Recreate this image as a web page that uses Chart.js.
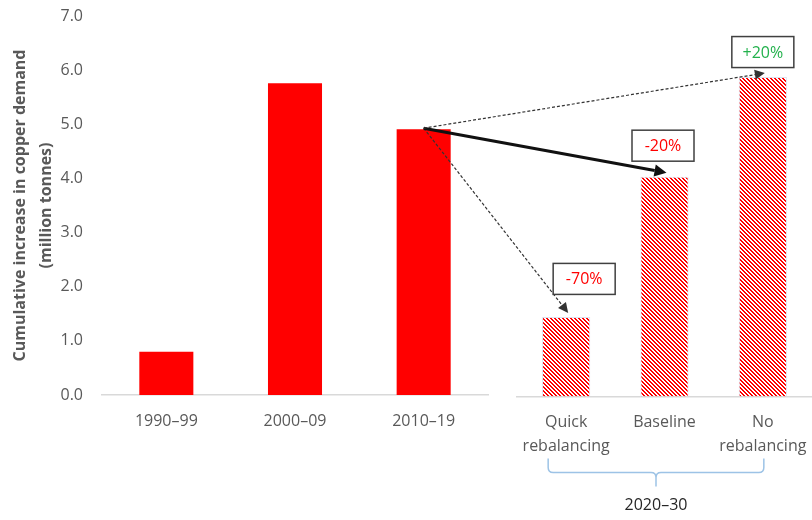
<!DOCTYPE html>
<html>
<head>
<meta charset="utf-8">
<script src="https://cdn.jsdelivr.net/npm/chart.js@4.4.1/dist/chart.umd.min.js"></script>
<style>
  body { margin: 0; background: #fff; }
  #wrap { position: relative; width: 812px; height: 520px; }
  #wrap canvas { position: absolute; top: 0; }
</style>
</head>
<body>
<div id="wrap">
  <canvas id="past" style="left:0"></canvas>
  <canvas id="future" style="left:500px"></canvas>
  <canvas id="overlay" width="812" height="520" style="left:0;pointer-events:none"></canvas>
</div>
<script>
// historical decades
const pastLabels = ['1990–99', '2000–09', '2010–19'];
const pastValues = [0.80, 5.76, 4.91];

// 2020-30 scenarios
const scenarioLabels = [['Quick', 'rebalancing'], 'Baseline', ['No', 'rebalancing']];
const scenarioValues = [1.47, 4.06, 5.90];
const changeLabels = ['-70%', '-20%', '+20%'];
const periodLabel = '2020–30';

const yTitle = ['Cumulative increase in copper demand', '(million tonnes)'];

const RED = '#ff0000';
const GREY = '#595959';
const FONT = 'Open Sans';

function hatch() {
  const c = document.createElement('canvas');
  c.width = 4; c.height = 4;
  const g = c.getContext('2d');
  g.fillStyle = '#fff';
  g.fillRect(0, 0, 4, 4);
  g.fillStyle = RED;
  for (let y = 0; y < 4; y++) {
    for (let x = 0; x < 4; x++) {
      if (((x - y) % 4 + 4) % 4 < 2) g.fillRect(x, y, 1, 1);
    }
  }
  return g.createPattern(c, 'repeat');
}

// no extra room for overflowing labels, the plot areas are placed by hand
function noPad(axis) {
  axis.paddingLeft = 0;
  axis.paddingRight = 0;
  axis.paddingTop = 0;
  axis.paddingBottom = 0;
}

const pastCanvas = document.getElementById('past');
pastCanvas.width = 500; pastCanvas.height = 520;
const futureCanvas = document.getElementById('future');
futureCanvas.width = 312; futureCanvas.height = 520;

const tickFont = { family: FONT, size: 16, lineHeight: 1.5 };

const past = new Chart(pastCanvas, {
  type: 'bar',
  data: {
    labels: pastLabels,
    datasets: [{
      data: pastValues,
      backgroundColor: RED,
      barPercentage: 0.42,
      categoryPercentage: 1
    }]
  },
  options: {
    responsive: false,
    animation: false,
    layout: { padding: { top: 16, right: 12, left: 0, bottom: 0 } },
    plugins: { legend: { display: false }, tooltip: { enabled: false } },
    scales: {
      x: {
        grid: { display: false, drawTicks: false },
        border: { color: '#d9d9d9', width: 1.5 },
        ticks: { color: GREY, font: tickFont, padding: 14, maxRotation: 0 },
        afterFit: (axis) => { axis.height = 125; noPad(axis); }
      },
      y: {
        min: 0,
        max: 7,
        grid: { display: false, drawTicks: false },
        border: { display: false },
        ticks: {
          stepSize: 1,
          color: GREY,
          font: { family: FONT, size: 16 },
          padding: 19,
          callback: (v) => v.toFixed(1)
        },
        title: {
          display: true,
          text: yTitle,
          color: GREY,
          font: { family: FONT, size: 16, weight: 'bold', lineHeight: 1.6 },
          padding: { top: 8, bottom: 0 }
        },
        afterFit: (axis) => { axis.width = 102; noPad(axis); }
      }
    }
  }
});

const future = new Chart(futureCanvas, {
  type: 'bar',
  data: {
    labels: scenarioLabels,
    datasets: [{
      data: scenarioValues,
      backgroundColor: hatch(),
      borderColor: '#dde3f0',
      borderWidth: 1,
      barPercentage: 0.49,
      categoryPercentage: 1
    }]
  },
  options: {
    responsive: false,
    animation: false,
    layout: { padding: { top: 17.5, right: 0, left: 17, bottom: 0 } },
    plugins: { legend: { display: false }, tooltip: { enabled: false } },
    scales: {
      x: {
        grid: { display: false, drawTicks: false },
        border: { color: '#d9d9d9', width: 1.5 },
        ticks: { color: GREY, font: tickFont, padding: 14, maxRotation: 0 },
        afterFit: (axis) => { axis.height = 123.5; noPad(axis); }
      },
      y: { display: false, min: 0, max: 7 }
    }
  }
});

function arrow(g, x1, y1, x2, y2, opts) {
  const ang = Math.atan2(y2 - y1, x2 - x1);
  const len = opts.head, half = opts.headW;
  const bx = x2 - Math.cos(ang) * len, by = y2 - Math.sin(ang) * len;
  g.save();
  g.strokeStyle = opts.color;
  g.fillStyle = opts.color;
  g.lineWidth = opts.width;
  g.setLineDash(opts.dash || []);
  g.beginPath();
  g.moveTo(x1, y1);
  g.lineTo(bx, by);
  g.stroke();
  g.setLineDash([]);
  g.beginPath();
  g.moveTo(x2, y2);
  g.lineTo(bx + Math.sin(ang) * half, by - Math.cos(ang) * half);
  g.lineTo(bx - Math.sin(ang) * half, by + Math.cos(ang) * half);
  g.closePath();
  g.fill();
  g.restore();
}

function drawOverlay() {
  const g = document.getElementById('overlay').getContext('2d');
  const offset = 500;
  const src = past.getDatasetMeta(0).data[2];
  const sx = src.x, sy = src.y - 1;
  const bars = future.getDatasetMeta(0).data;

  // arrows from 2010-19 to each scenario
  const styles = [
    { color: '#333', width: 1.2, dash: [3, 2], head: 10, headW: 5 },
    { color: '#111', width: 3, dash: null, head: 12, headW: 6 },
    { color: '#333', width: 1.2, dash: [3, 2], head: 10, headW: 5 }
  ];
  bars.forEach((b, i) => {
    arrow(g, sx, sy, offset + b.x + 2, b.y - 4, styles[i]);
  });

  // change boxes
  const boxShift = [[18, -38], [-1.5, -31], [0, -25]];
  const boxColors = [RED, RED, '#22b14c'];
  g.font = '16px "' + FONT + '"';
  g.textAlign = 'center';
  g.textBaseline = 'middle';
  bars.forEach((b, i) => {
    const cx = offset + b.x + boxShift[i][0];
    const cy = b.y + boxShift[i][1];
    g.fillStyle = '#fff';
    g.fillRect(cx - 31, cy - 15.5, 62, 31);
    g.strokeStyle = '#404040';
    g.lineWidth = 1.5;
    g.strokeRect(cx - 31, cy - 15.5, 62, 31);
    g.fillStyle = boxColors[i];
    g.fillText(changeLabels[i], cx, cy + 1);
  });

  // brace under the scenarios
  const left = offset + bars[0].x - 18;
  const right = offset + bars[2].x + 1;
  const mid = (left + right) / 2;
  const base = future.chartArea.bottom;
  const top = base + 62, line = base + 76, tip = base + 90;
  g.strokeStyle = '#9dc3e6';
  g.lineWidth = 1.5;
  g.beginPath();
  g.moveTo(left, top);
  g.lineTo(left, line - 5);
  g.quadraticCurveTo(left, line, left + 5, line);
  g.lineTo(mid - 5, line);
  g.quadraticCurveTo(mid, line, mid, line + 5);
  g.lineTo(mid, tip);
  g.moveTo(mid, line + 5);
  g.quadraticCurveTo(mid, line, mid + 5, line);
  g.lineTo(right - 5, line);
  g.quadraticCurveTo(right, line, right, line - 5);
  g.lineTo(right, top);
  g.stroke();

  g.fillStyle = '#262626';
  g.fillText(periodLabel, mid, base + 109);
}

drawOverlay();
</script>
</body>
</html>
